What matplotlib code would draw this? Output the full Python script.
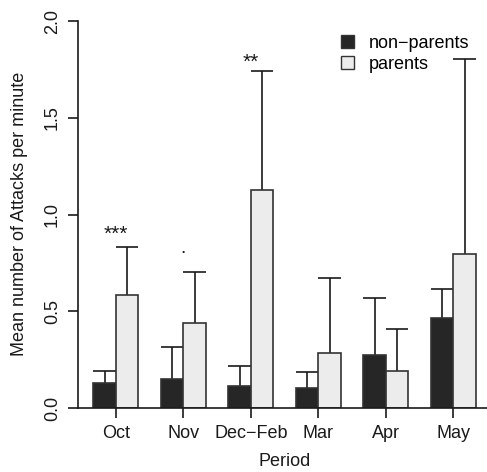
import numpy as np
import matplotlib.pyplot as plt
from matplotlib.patches import Patch

plt.rcParams["font.family"] = ["Liberation Sans", "DejaVu Sans"]

periods = ["Oct", "Nov", "Dec\u2212Feb", "Mar", "Apr", "May"]
nonparents = [0.128, 0.148, 0.115, 0.102, 0.272, 0.467]
nonparents_err = [0.065, 0.166, 0.102, 0.084, 0.298, 0.148]
parents = [0.584, 0.441, 1.127, 0.284, 0.191, 0.797]
parents_err = [0.250, 0.264, 0.616, 0.386, 0.217, 1.007]
signif = ["***", ".", "**", "", "", ""]
signif_y = [0.895, 0.80, 1.785, 0, 0, 0]

dark = "#262626"
light = "#ececec"
edge = "#333333"
ink = "#1a1a1a"
fs = 13

fig = plt.figure(figsize=(4.87, 4.72), dpi=100)
ax = fig.add_axes([78 / 487, 64 / 472, 409 / 487, 387 / 472])

# R-style barplot positions: width 1, one bar gap between groups
centers = 2 + 3 * np.arange(len(periods))
x_non = centers - 0.5
x_par = centers + 0.5

ax.bar(x_non, nonparents, width=1, color=dark, edgecolor=edge, linewidth=1.2, zorder=2)
ax.bar(x_par, parents, width=1, color=light, edgecolor=edge, linewidth=1.2, zorder=2)

# upward-only error bars with a cap on top only
for xs, vals, errs in [(x_non, nonparents, nonparents_err), (x_par, parents, parents_err)]:
    tops = np.array(vals) + np.array(errs)
    ax.vlines(xs, vals, tops, color=ink, linewidth=1.2, zorder=1)
    ax.hlines(tops, xs - 0.5, xs + 0.5, color=ink, linewidth=1.2, zorder=1)

for c, s, y in zip(centers, signif, signif_y):
    if s == ".":
        ax.text(c, y, s, ha="center", va="baseline", fontsize=14, color=ink)
    elif s:
        ax.text(c, y, s, ha="center", va="center", fontsize=15, color=ink)

ax.set_xlim(0.32, 18.5)
ax.set_ylim(0, 2)
ax.spines["top"].set_visible(False)
ax.spines["right"].set_visible(False)
ax.spines["left"].set_bounds(0, 2)
for sp in ["left", "bottom"]:
    ax.spines[sp].set_linewidth(1.2)
    ax.spines[sp].set_color(ink)

ax.set_xticks(centers)
ax.set_xticklabels(periods)
ax.set_yticks([0, 0.5, 1.0, 1.5, 2.0])
ax.set_yticklabels(["0.0", "0.5", "1.0", "1.5", "2.0"], rotation=90, va="center")
ax.tick_params(axis="both", length=7.2, width=1.2, color=ink,
               labelsize=fs, labelcolor=ink)
ax.tick_params(axis="x", pad=5)
ax.tick_params(axis="y", pad=5)

fig.text(20 / 487, 1 - 214 / 472, "Mean number of Attacks per minute",
         rotation=90, ha="center", va="center", fontsize=fs, color=ink)
fig.text(285 / 487, 1 - 462 / 472, "Period", ha="center", va="center",
         fontsize=fs, color=ink)

handles = [Patch(facecolor=dark, edgecolor=edge, label="non\u2212parents"),
           Patch(facecolor=light, edgecolor=edge, label="parents")]
ax.legend(handles=handles, loc="upper left", bbox_to_anchor=(341 / 487, 1 - 35 / 472),
          bbox_transform=fig.transFigure, frameon=False, fontsize=fs,
          handlelength=0.7, handleheight=0.7, handletextpad=0.85,
          labelspacing=0.2, borderpad=0, borderaxespad=0)

fig.savefig("out.png", dpi=100)
